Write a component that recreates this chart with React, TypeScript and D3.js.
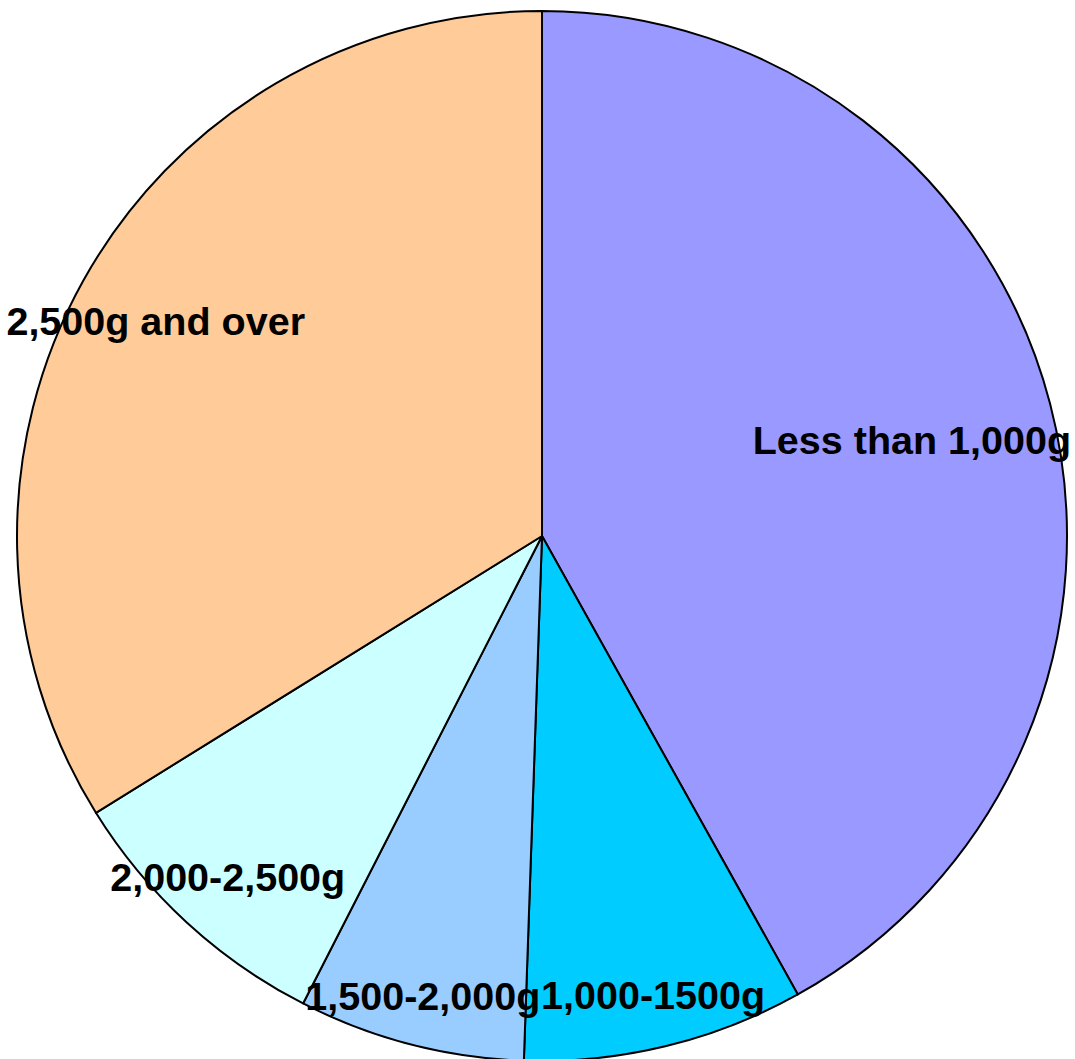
import * as d3 from "d3";
import React from "react";

// slice shares (percent), clockwise from 12 o'clock
const categories = ["Less than 1,000g", "1,000-1500g", "1,500-2,000g", "2,000-2,500g", "2,500g and over"];
const values = [41.9, 8.65, 6.97, 8.64, 33.84];
const colors = ["#9999FF", "#00CCFF", "#99CCFF", "#CCFFFF", "#FFCC99"];
// distance of each label from the centre, as fraction of radius
const labelRadius = [0.728, 0.9, 0.905, 0.884, 0.842];

const width = 1075;
const height = 1059;
const cx = 542;
const cy = 536;
const radius = 525;

export default function App() {
  const pie = d3
    .pie<number>()
    .sort(null)
    .value((d) => d);
  const arcs = pie(values);
  const arc = d3.arc<d3.PieArcDatum<number>>().innerRadius(0).outerRadius(radius);

  return (
    <div style={{ position: "absolute", left: 0, top: 0 }}>
      <svg width={width} height={height} style={{ display: "block" }}>
        <rect width={width} height={height} fill="#ffffff" />
        <g transform={`translate(${cx},${cy})`}>
          {arcs.map((a, i) => (
            <path key={categories[i]} d={arc(a) || ""} fill={colors[i]} stroke="#000" strokeWidth={2} strokeLinejoin="round" />
          ))}
          {arcs.map((a, i) => {
            const mid = (a.startAngle + a.endAngle) / 2;
            const r = radius * labelRadius[i];
            const x = Math.sin(mid) * r;
            const y = -Math.cos(mid) * r;
            return (
              <text
                key={"l" + i}
                x={x}
                y={y}
                textAnchor="middle"
                dominantBaseline="central"
                fontFamily="'Liberation Sans', Arial, sans-serif"
                fontWeight="bold"
                fontSize={39.5}
                fill="#000"
              >
                {categories[i]}
              </text>
            );
          })}
        </g>
      </svg>
    </div>
  );
}
